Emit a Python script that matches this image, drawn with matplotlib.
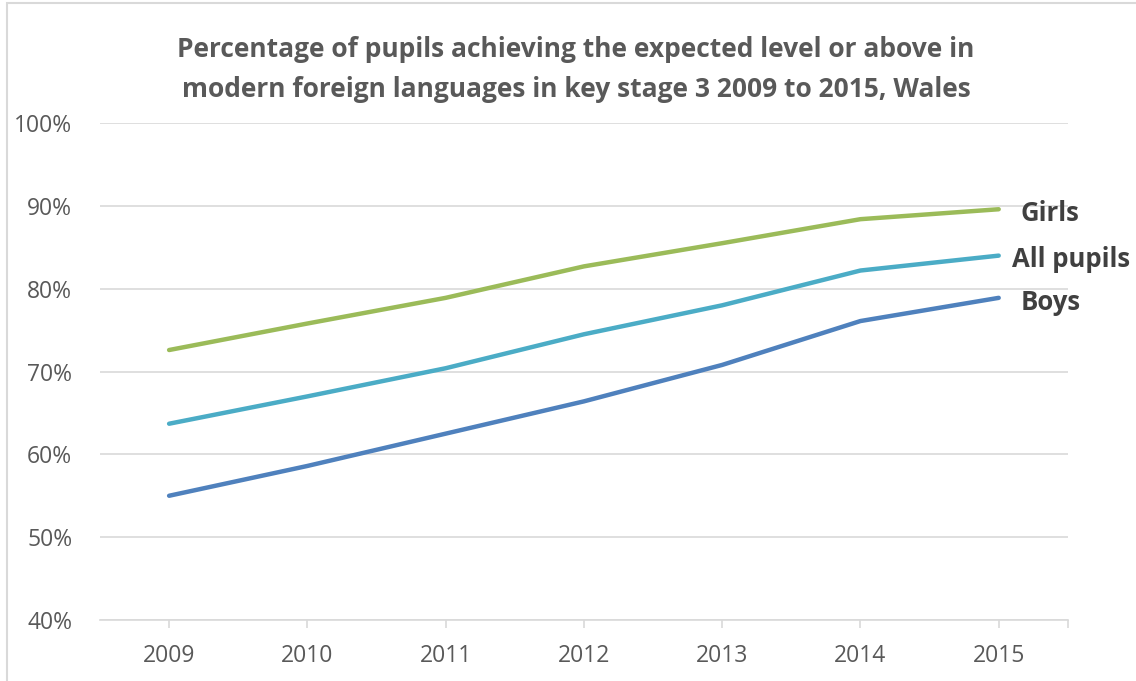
import matplotlib.pyplot as plt
import matplotlib.patches as patches

years = ['2009', '2010', '2011', '2012', '2013', '2014', '2015']
girls = [72.6, 75.8, 78.9, 82.7, 85.5, 88.4, 89.6]
all_pupils = [63.7, 67.0, 70.4, 74.5, 78.0, 82.2, 84.0]
boys = [55.0, 58.6, 62.5, 66.4, 70.8, 76.1, 78.9]
series_names = ['Girls', 'All pupils', 'Boys']
label_x = [6.16, 6.095, 6.16]
colors = ['#9BBB59', '#4BACC6', '#4F81BD']
y_ticks = [40, 50, 60, 70, 80, 90, 100]

plt.rcParams['font.family'] = ['Open Sans', 'DejaVu Sans']

fig = plt.figure(figsize=(11.36, 6.81), dpi=100)
ax = fig.add_axes([0.088, 0.0896, 0.852, 0.7296])

x = list(range(len(years)))
for vals, name, c, lx in zip([girls, all_pupils, boys], series_names, colors, label_x):
    ax.plot(x, vals, color=c, lw=3.2, solid_capstyle='round', zorder=3)
    ax.annotate(name, (lx, vals[-1]), xytext=(0, -3), textcoords='offset points',
                color='#404040', fontsize=18.5, fontweight='bold',
                va='center', ha='left')

ax.set_xlim(-0.5, 6.5)
ax.set_ylim(40, 100)
ax.set_yticks(y_ticks)
ax.set_yticklabels([f'{v}%' for v in y_ticks])
ax.set_xticks(x)
ax.set_xticklabels(years)
ax.set_xticks([6.5], minor=True)
ax.yaxis.grid(True, color='#d9d9d9', lw=1.2)
ax.set_axisbelow(True)
for s in ['top', 'right', 'left']:
    ax.spines[s].set_visible(False)
ax.spines['bottom'].set_color('#d9d9d9')
ax.spines['bottom'].set_linewidth(1.2)
ax.tick_params(axis='y', length=0, pad=20, labelsize=16.5, labelcolor='#595959')
ax.tick_params(axis='x', which='both', length=6, color='#d9d9d9', width=1.2,
               pad=11, labelsize=16.5, labelcolor='#595959')

fig.text(0.507, 0.898, 'Percentage of pupils achieving the expected level or above in\n'
         'modern foreign languages in key stage 3 2009 to 2015, Wales',
         ha='center', va='center', fontsize=19, fontweight='bold',
         color='#595959', linespacing=1.6)

# chart border
fig.patches.append(patches.Rectangle((0.006, -0.01), 1.2, 1.005, transform=fig.transFigure,
                                     fill=False, edgecolor='#d9d9d9', lw=1.5))

fig.savefig('out.png', dpi=100)
